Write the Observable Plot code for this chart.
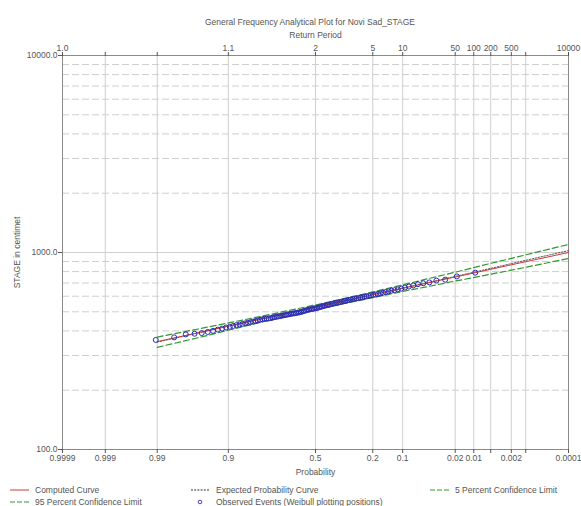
<!DOCTYPE html>
<html><head><meta charset="utf-8">
<script src="https://cdn.jsdelivr.net/npm/d3@7"></script>
<script src="https://cdn.jsdelivr.net/npm/@observablehq/plot@0.6"></script>
<style>
body{margin:0;background:#fff;font-family:"Liberation Sans",Arial,sans-serif;color:#555}
#wrap{position:relative;width:581px;height:506px;overflow:hidden}
#chart{position:absolute;left:0;top:0}
.t{position:absolute;font-size:8.5px;white-space:nowrap;line-height:10px}
.lg{position:absolute;font-size:8.5px;white-space:nowrap;line-height:10px;display:flex;align-items:center}
.lg svg{margin-right:6px}
</style></head><body><div id="wrap">
<div id="chart"></div>
<div class="t" style="left:0;width:620px;text-align:center;top:17px">General Frequency Analytical Plot for Novi Sad_STAGE</div>
<div id="legend"></div>
</div>
<script>
// ---- data ----
const probTicks   = [0.9999, 0.999, 0.99, 0.9, 0.5, 0.2, 0.1, 0.02, 0.01, 0.005, 0.002, 0.001, 0.0001];
const probLabels  = ["0.9999","0.999","0.99","0.9","0.5","0.2","0.1","0.02","0.01","","0.002","","0.0001"];
const returnLabels= ["1.0","","","1.1","2","5","10","50","100","200","500","","10000"];
const yTicks = [100, 1000, 10000];
const yMajorGrid = [1000];
const yMinorGrid = [200,300,400,500,600,700,800,900,2000,3000,4000,5000,6000,7000,8000,9000];

const curveP     = [0.99,0.95,0.9,0.8,0.5,0.2,0.1,0.05,0.02,0.01,0.005,0.002,0.001,0.0001];
const computedV  = [353,397,423,456,527,610,658,700,751,787,822,866,898,1000];
const expectedV  = [351,396,423,456,527,611,660,703,756,794,831,878,913,1022];
const conf5V     = [372,414,439,471,542,631,685,735,794,838,881,933,973,1099];
const conf95V    = [330,375,403,439,513,590,634,671,716,746,776,813,841,933];

// observed events, ranked from largest to smallest
const observedV = [
 790,756,728,720,705,698,690,680,672,664,
 655,650,644,640,635,630,625,620,616,612,
 609,606,602,599,596,593,590,587,584,582,
 580,577,574,571,568,566,563,560,557,555,
 553,551,548,545,542,540,538,535,532,529,
 526,523,521,519,517,515,513,511,508,505,
 502,499,497,495,493,491,490,488,486,484,
 482,480,478,476,474,472,470,467,464,461,
 463,461,458,455,452,449,446,443,440,437,
 434,431,428,424,420,416,411,406,400,395,
 390,387,384,371,360
].sort((a,b)=>b-a);

// ---- normal probability transform ----
function qnorm(p){
 const a=[-3.969683028665376e+01,2.209460984245205e+02,-2.759285104469687e+02,1.383577518672690e+02,-3.066479806614716e+01,2.506628277459239e+00];
 const b=[-5.447609879822406e+01,1.615858368580409e+02,-1.556989798598866e+02,6.680131188771972e+01,-1.328068155288572e+01];
 const c=[-7.784894002430293e-03,-3.223964580411365e-01,-2.400758277161838e+00,-2.549732539343734e+00,4.374664141464968e+00,2.938163982698783e+00];
 const d=[7.784695709041462e-03,3.224671290700398e-01,2.445134137142996e+00,3.754408661907416e+00];
 const pl=0.02425, ph=1-pl; let q,r;
 if(p<pl){q=Math.sqrt(-2*Math.log(p));return (((((c[0]*q+c[1])*q+c[2])*q+c[3])*q+c[4])*q+c[5])/((((d[0]*q+d[1])*q+d[2])*q+d[3])*q+1);}
 if(p<=ph){q=p-0.5;r=q*q;return (((((a[0]*r+a[1])*r+a[2])*r+a[3])*r+a[4])*r+a[5])*q/(((((b[0]*r+b[1])*r+b[2])*r+b[3])*r+b[4])*r+1);}
 q=Math.sqrt(-2*Math.log(1-p));return -(((((c[0]*q+c[1])*q+c[2])*q+c[3])*q+c[4])*q+c[5])/((((d[0]*q+d[1])*q+d[2])*q+d[3])*q+1);
}
const zOf = p => -qnorm(p); // exceedance probability -> position
const tickZ = probTicks.map(zOf);
const labelFor = arr => (z) => { let best=0; tickZ.forEach((t,i)=>{ if(Math.abs(t-z)<Math.abs(tickZ[best]-z)) best=i; }); return arr[best]; };

const curve = (vals) => curveP.map((p,i)=>({z:zOf(p), v:vals[i]}));
const n = observedV.length;
const observed = observedV.map((v,i)=>({z:zOf((i+1)/(n+1)), v})); // Weibull plotting positions

const chart = Plot.plot({
  width: 581, height: 506,
  marginTop: 55, marginBottom: 57, marginLeft: 62, marginRight: 13,
  style: {fontFamily: '"Liberation Sans", Arial, sans-serif', fontSize: "8.5px", color: "#555", background: "#fff"},
  x: {type: "linear", domain: [zOf(0.9999), zOf(0.0001)]},
  y: {type: "log", domain: [100, 10000]},
  marks: [
    Plot.gridY({ticks: yMinorGrid, stroke: "#cfcfcf", strokeOpacity: 1, strokeDasharray: "7,3"}),
    Plot.gridY({ticks: yMajorGrid, stroke: "#cfcfcf", strokeOpacity: 1}),
    Plot.gridX({ticks: tickZ, stroke: "#cfcfcf", strokeOpacity: 1}),
    Plot.frame({stroke: "#8a8a8a"}),
    Plot.axisX({anchor: "bottom", ticks: tickZ, tickFormat: labelFor(probLabels), tickSize: 4, tickPadding: 1,
      label: "Probability", labelAnchor: "center", labelOffset: 25, labelArrow: "none"}),
    Plot.axisX({anchor: "top", ticks: tickZ, tickFormat: labelFor(returnLabels), tickSize: 4, tickPadding: 1,
      label: "Return Period", labelAnchor: "center", labelOffset: 24, labelArrow: "none"}),
    Plot.axisY({ticks: yTicks, tickFormat: d3.format(".1f"), tickSize: 4, tickPadding: 1,
      label: "STAGE in centimet", labelAnchor: "center", labelOffset: 49, labelArrow: "none"}),
    Plot.line(curve(conf5V), {x: "z", y: "v", stroke: "#2f9a2f", strokeWidth: 1.2, strokeDasharray: "6,3"}),
    Plot.line(curve(conf95V), {x: "z", y: "v", stroke: "#2f9a2f", strokeWidth: 1.2, strokeDasharray: "6,3"}),
    Plot.line(curve(expectedV), {x: "z", y: "v", stroke: "#333", strokeWidth: 0.8, strokeDasharray: "1.5,1.5"}),
    Plot.line(curve(computedV), {x: "z", y: "v", stroke: "#cc3a3a", strokeWidth: 1}),
    Plot.dot(observed, {x: "z", y: "v", r: 2.5, stroke: "#2b2bb0", strokeWidth: 1, fill: "none"})
  ]
});
document.getElementById("chart").appendChild(chart);

// ---- legend ----
const legendItems = [
  {label: "Computed Curve", kind: "solid", color: "#cc3a3a", left: 10, top: 485},
  {label: "Expected Probability Curve", kind: "dotted", color: "#333", left: 191, top: 485},
  {label: "5 Percent Confidence Limit", kind: "dashed", color: "#2f9a2f", left: 430, top: 485},
  {label: "95 Percent Confidence Limit", kind: "dashed", color: "#2f9a2f", left: 10, top: 497},
  {label: "Observed Events (Weibull plotting positions)", kind: "circle", color: "#2b2bb0", left: 191, top: 497}
];
const lg = document.getElementById("legend");
for (const it of legendItems) {
  const div = document.createElement("div");
  div.className = "lg";
  div.style.left = it.left + "px"; div.style.top = it.top + "px";
  let sw;
  if (it.kind === "circle") sw = `<svg width="19" height="8"><circle cx="9" cy="4" r="1.8" fill="none" stroke="${it.color}" stroke-width="0.9"/></svg>`;
  else {
    const dash = it.kind === "dashed" ? 'stroke-dasharray="5,2"' : it.kind === "dotted" ? 'stroke-dasharray="2,1.2"' : "";
    sw = `<svg width="19" height="8"><line x1="0" x2="19" y1="4" y2="4" stroke="${it.color}" stroke-width="1" ${dash}/></svg>`;
  }
  div.innerHTML = sw + `<span>${it.label}</span>`;
  lg.appendChild(div);
}
</script>
</body></html>
